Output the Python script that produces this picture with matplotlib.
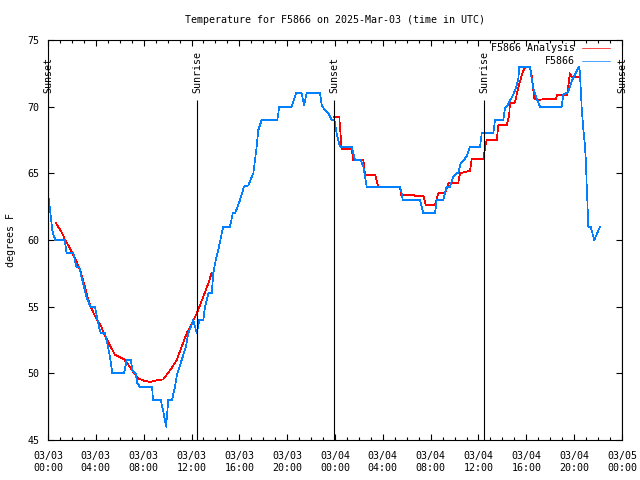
import matplotlib
matplotlib.use("Agg")
import matplotlib.pyplot as plt
from matplotlib.ticker import MultipleLocator

# ---------------- data ----------------
title = "Temperature for F5866 on 2025-Mar-03 (time in UTC)"
ylabel = "degrees F"
series_names = ["F5866 Analysis", "F5866"]

# hours since 2025-03-03 00:00 UTC, temperature degF (observations)
obs = [
    (0.08, 63.1), (0.17, 62.25), (0.28, 61.4), (0.36, 60.75), (0.50, 60.25), (0.64, 60.0),
    (1.40, 60.0), (1.56, 59.0), (2.12, 59.0), (2.37, 58.0), (2.62, 58.0), (2.78, 57.3),
    (3.01, 56.5), (3.20, 55.75), (3.43, 55.25), (3.57, 55.0), (3.93, 55.0), (4.12, 54.1),
    (4.26, 53.5), (4.41, 53.0), (4.77, 53.0), (4.96, 52.25), (5.18, 51.25), (5.38, 50.0),
    (6.36, 50.0), (6.58, 51.0), (6.92, 51.0), (7.05, 50.25), (7.33, 50.0), (7.47, 49.25),
    (7.69, 49.0), (8.70, 49.0), (8.78, 48.0), (9.42, 48.0), (9.62, 47.25), (9.87, 46.0),
    (10.06, 48.0), (10.37, 48.0), (10.62, 49.0), (10.81, 50.0), (11.18, 51.0), (11.54, 52.0),
    (11.73, 53.0), (12.15, 54.0), (12.44, 53.0), (12.65, 54.0), (12.99, 54.0), (13.13, 55.0),
    (13.41, 56.0), (13.69, 56.0), (13.82, 57.5), (13.97, 58.25), (14.24, 59.25), (14.53, 60.5),
    (14.66, 61.0), (15.22, 61.0), (15.45, 62.0), (15.64, 62.0), (16.06, 63.0), (16.39, 64.0),
    (16.75, 64.1), (17.17, 65.0), (17.31, 66.0), (17.45, 67.0), (17.59, 68.25), (17.87, 69.0),
    (19.18, 69.0), (19.34, 70.0), (20.38, 70.0), (20.74, 71.0), (21.22, 71.0), (21.41, 70.1),
    (21.63, 71.0), (22.75, 71.0), (22.89, 70.1), (23.16, 69.75), (23.44, 69.5), (23.72, 69.0),
    (23.94, 69.0), (24.00, 68.75), (24.14, 68.0), (24.28, 67.5), (24.42, 67.0), (25.40, 67.0),
    (25.53, 66.5), (25.67, 66.0), (26.15, 66.0), (26.37, 65.5), (26.51, 64.75), (26.65, 64.0),
    (29.44, 64.0), (29.58, 63.5), (29.66, 63.0), (31.11, 63.0), (31.39, 62.0), (32.36, 62.0),
    (32.51, 63.0), (33.06, 63.0), (33.34, 64.0), (33.62, 64.0), (33.89, 64.75), (34.18, 65.0),
    (34.31, 65.0), (34.51, 65.75), (35.01, 66.25), (35.29, 67.0), (36.13, 67.0), (36.27, 68.0),
    (37.24, 68.0), (37.38, 69.0), (38.08, 69.0), (38.22, 69.9), (38.36, 70.0), (38.91, 70.9),
    (39.20, 71.6), (39.33, 72.1), (39.41, 73.0), (40.31, 73.0), (40.45, 72.1), (40.58, 71.4),
    (40.87, 70.6), (41.14, 70.0), (42.96, 70.0), (43.09, 70.9), (43.51, 71.1), (43.79, 71.9),
    (44.07, 72.4), (44.35, 72.9), (44.43, 73.0), (44.49, 72.4), (44.63, 69.9), (44.77, 68.3),
    (44.91, 67.0), (44.99, 65.7), (45.05, 64.0), (45.10, 63.0), (45.18, 61.0), (45.38, 61.0),
    (45.68, 60.0), (46.16, 61.0),
]

# analysis, two separate segments
analysis_day1 = [
    (0.64, 61.3), (0.92, 60.9), (1.20, 60.5), (1.40, 60.05), (1.76, 59.5), (2.17, 58.75),
    (2.45, 58.25), (2.73, 57.6), (3.01, 56.75), (3.29, 55.75), (3.57, 55.0), (3.85, 54.45),
    (4.12, 54.0), (4.41, 53.6), (4.68, 53.0), (4.96, 52.5), (5.24, 52.0), (5.60, 51.4),
    (5.94, 51.25), (6.36, 51.05), (6.63, 50.75), (6.92, 50.4), (7.19, 50.0), (7.61, 49.6),
    (8.03, 49.45), (8.59, 49.35), (8.95, 49.45), (9.64, 49.55), (9.93, 49.9), (10.34, 50.4),
    (10.76, 51.0), (11.18, 52.0), (11.60, 53.0), (12.02, 53.75), (12.44, 54.5), (12.99, 55.75),
    (13.41, 56.75), (13.69, 57.55),
]
analysis_day2 = [
    (23.94, 69.2), (24.36, 69.2), (24.56, 66.8), (25.40, 66.8), (25.53, 66.0), (26.37, 66.0),
    (26.51, 64.9), (27.35, 64.9), (27.49, 64.4), (27.62, 64.0), (29.44, 64.0), (29.52, 63.4),
    (30.55, 63.4), (30.69, 63.3), (31.39, 63.3), (31.61, 62.6), (32.36, 62.6), (32.64, 63.5),
    (33.20, 63.5), (33.47, 64.25), (33.62, 64.3), (34.31, 64.3), (34.45, 65.0), (35.29, 65.2),
    (35.43, 66.05), (36.40, 66.05), (36.54, 66.9), (36.68, 67.5), (37.52, 67.5), (37.66, 68.6),
    (38.36, 68.6), (38.57, 69.4), (38.63, 70.3), (39.05, 70.3), (39.19, 70.9), (39.47, 71.9),
    (39.70, 72.6), (39.89, 72.95), (40.17, 72.95), (40.31, 72.9), (40.47, 72.2), (40.58, 71.3),
    (40.67, 70.6), (41.00, 70.5), (41.70, 70.6), (42.48, 70.6), (42.59, 70.9), (43.43, 70.9),
    (43.57, 72.0), (43.65, 72.5), (43.79, 72.25), (44.43, 72.25),
]

sun_labels = ["Sunset", "Sunrise", "Sunset", "Sunrise", "Sunset"]
sun_hours = [0.0, 12.46, 23.92, 36.46, 48.0]

xtick_hours = [0, 4, 8, 12, 16, 20, 24, 28, 32, 36, 40, 44, 48]
xtick_labels = ["03/03\n00:00", "03/03\n04:00", "03/03\n08:00", "03/03\n12:00",
                "03/03\n16:00", "03/03\n20:00", "03/04\n00:00", "03/04\n04:00",
                "03/04\n08:00", "03/04\n12:00", "03/04\n16:00", "03/04\n20:00",
                "03/05\n00:00"]
yticks = [45, 50, 55, 60, 65, 70, 75]

# ---------------- plot ----------------
FONT = "DejaVu Sans Mono"
FS = 7.2
plt.rcParams["font.family"] = FONT
plt.rcParams["font.size"] = FS

fig = plt.figure(figsize=(6.4, 4.8), dpi=100)
ax = fig.add_axes([48 / 640, 40 / 480, 574 / 640, 400 / 480])

RED = "#ff0000"
BLUE = "#0080ff"
LW = 0.5

for seg, lab in ((analysis_day1, series_names[0]), (analysis_day2, None)):
    xs, ys = zip(*seg)
    ax.plot(xs, ys, color=RED, lw=LW, label=lab, antialiased=False)
xs, ys = zip(*obs)
ax.plot(xs, ys, color=BLUE, lw=LW, label=series_names[1], antialiased=False)

ax.vlines(sun_hours, 45, 70.5, color="black", lw=0.8)
for h, lab in zip(sun_hours, sun_labels):
    ax.text(h, 71.0, lab, rotation=90, ha="center", va="bottom", fontsize=FS)

ax.set_xlim(0, 48)
ax.set_ylim(45, 75)
ax.set_xticks(xtick_hours)
ax.set_xticklabels(xtick_labels)
ax.xaxis.set_minor_locator(MultipleLocator(1))
ax.set_yticks(yticks)
ax.set_yticklabels([str(v) for v in yticks])
ax.tick_params(which="both", direction="in", top=True, right=True, labelsize=FS)
ax.tick_params(which="major", length=4, width=0.8)
ax.tick_params(axis="x", which="major", pad=8)
ax.tick_params(axis="y", which="major", pad=6)
ax.tick_params(which="minor", length=2.5, width=0.8)
for s in ax.spines.values():
    s.set_linewidth(0.8)

fig.text(335 / 640, 1 - 20 / 480, title, ha="center", va="center", fontsize=FS)
fig.text(11 / 640, 1 - 240 / 480, ylabel, rotation=90, ha="center", va="center", fontsize=FS)

ax.legend(loc="upper right", bbox_to_anchor=(610 / 640, 1 - 43 / 480),
          bbox_transform=fig.transFigure, frameon=False, markerfirst=False,
          handlelength=2.8, handletextpad=0.7, borderpad=0, borderaxespad=0,
          labelspacing=0.3, fontsize=FS)

fig.savefig("out.png", dpi=100)
